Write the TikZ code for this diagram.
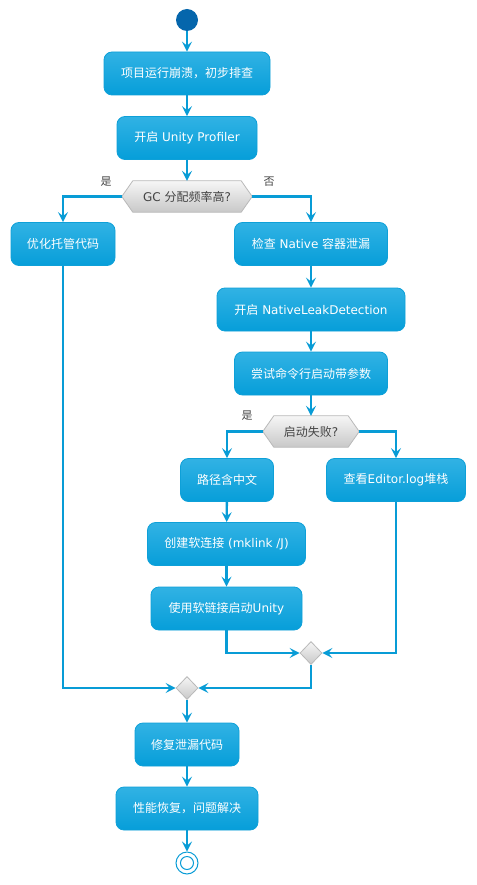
\documentclass[tikz,border=0pt]{standalone}
\usepackage{fontspec}
\setmainfont{DejaVu Sans}
\newfontfamily\cjk{Noto Sans CJK SC}
\usetikzlibrary{arrows.meta,shapes.geometric,calc}
\definecolor{boxtop}{RGB}{49,178,228}
\definecolor{boxbot}{RGB}{6,158,217}
\definecolor{boxline}{RGB}{14,160,216}
\definecolor{flow}{RGB}{8,156,214}
\definecolor{startc}{RGB}{5,102,172}
\definecolor{hextop}{RGB}{246,246,246}
\definecolor{hexbot}{RGB}{200,200,200}
\definecolor{hexline}{RGB}{185,185,185}
\definecolor{hextext}{RGB}{68,68,68}
\begin{document}
\begin{tikzpicture}[x=1pt,y=-1pt,
  act/.style={rectangle,rounded corners=8pt,draw=boxline,line width=0.8pt,
    top color=boxtop,bottom color=boxbot,text=white,font=\fontsize{12}{14}\selectfont,
    minimum height=43pt,inner sep=0pt},
  hexn/.style={rectangle,minimum height=31pt,inner sep=0pt,text=hextext,font=\fontsize{12}{14}\selectfont},
  hexshape/.style={draw=hexline,line width=0.8pt,top color=hextop,bottom color=hexbot},
  merge/.style={diamond,draw=hexline,line width=0.8pt,top color=hextop,bottom color=hexbot,
    minimum width=22pt,minimum height=23pt,inner sep=0pt},
  flowl/.style={draw=flow,line width=2.4pt,-{Stealth[length=10pt,width=10pt,inset=4pt]}},
  flown/.style={draw=flow,line width=2.4pt},
  lbl/.style={text=hextext,font=\fontsize{11}{13}\selectfont\cjk,inner sep=0pt}
]
\useasboundingbox (0,0) rectangle (476,885);

\node[circle,fill=startc,minimum size=22pt,inner sep=0pt] (start) at (187,20) {};
\node[act,minimum width=166pt] (a1) at (187,73.5) {\cjk 项目运行崩溃，初步排查};
\node[act,minimum width=140pt] (a2) at (187,138) {{\cjk 开启} Unity Profiler};

\node[hexn,minimum width=130pt] (gc) at (187,196.5) {GC {\cjk 分配频率高}?};
\path[hexshape] (gc.west) -- ($(gc.north west)+(11,0)$) -- ($(gc.north east)+(-11,0)$) -- (gc.east)
  -- ($(gc.south east)+(-11,0)$) -- ($(gc.south west)+(11,0)$) -- cycle;
\node[hexn,minimum width=130pt] at (gc) {GC {\cjk 分配频率高}?};

\node[act,minimum width=104pt] (opt) at (63,244) {\cjk 优化托管代码};
\node[act,minimum width=153pt] (chk) at (311,244) {{\cjk 检查} Native {\cjk 容器泄漏}};
\node[act,minimum width=188pt] (nld) at (311,309.5) {{\cjk 开启} NativeLeakDetection};
\node[act,minimum width=153pt] (cmd) at (311,373.5) {\cjk 尝试命令行启动带参数};

\node[hexn,minimum width=96pt] (fail) at (311,431.5) {{\cjk 启动失败}?};
\path[hexshape] (fail.west) -- ($(fail.north west)+(11,0)$) -- ($(fail.north east)+(-11,0)$) -- (fail.east)
  -- ($(fail.south east)+(-11,0)$) -- ($(fail.south west)+(11,0)$) -- cycle;
\node[hexn,minimum width=96pt] at (fail) {{\cjk 启动失败}?};

\node[act,minimum width=93pt] (path) at (227,480) {\cjk 路径含中文};
\node[act,minimum width=139pt] (log) at (396,480) {{\cjk 查看}Editor.log{\cjk 堆栈}};
\node[act,minimum width=158pt] (mk) at (226.5,544) {{\cjk 创建软连接} (mklink /J)};
\node[act,minimum width=151pt] (use) at (226.5,608.5) {{\cjk 使用软链接启动}Unity};

\node[merge] (m1) at (311,653) {};
\node[merge] (m2) at (187,688) {};

\node[act,minimum width=104pt] (fix) at (187,744.5) {\cjk 修复泄漏代码};
\node[act,minimum width=142pt] (done) at (187,808.5) {\cjk 性能恢复，问题解决};

\node[circle,draw=flow,line width=1pt,minimum size=22pt,inner sep=0pt] (end) at (187,863) {};
\node[circle,draw=flow,line width=1pt,minimum size=13pt,inner sep=0pt] (endin) at (end) {};

% labels
\node[lbl] (yes1) at (106,181.5) {是};
\node[lbl] (no1) at (269,181.5) {否};
\node[lbl] (yes2) at (247,415.5) {是};

% flows
\draw[flowl] (start) -- (a1);
\draw[flowl] (a1) -- (a2);
\draw[flowl] (a2) -- (gc);
\draw[flowl] (gc.west) -| (opt.north);
\draw[flowl] (gc.east) -| (chk.north);
\draw[flowl] (chk) -- (nld);
\draw[flowl] (nld) -- (cmd);
\draw[flowl] (cmd) -- (fail);
\draw[flowl] (fail.west) -| (path.north);
\draw[flowl] (fail.east) -| (log.north);
\draw[flowl] (path) -- (mk);
\draw[flowl] (mk) -- (use);
\draw[flowl] (use.south) |- (m1.west);
\draw[flowl] (log.south) |- (m1.east);
\draw[flowl] (m1.south) |- (m2.east);
\draw[flowl] (opt.south) |- (m2.west);
\draw[flowl] (m2) -- (fix);
\draw[flowl] (fix) -- (done);
\draw[flowl] (done) -- (end);
\end{tikzpicture}
\end{document}
